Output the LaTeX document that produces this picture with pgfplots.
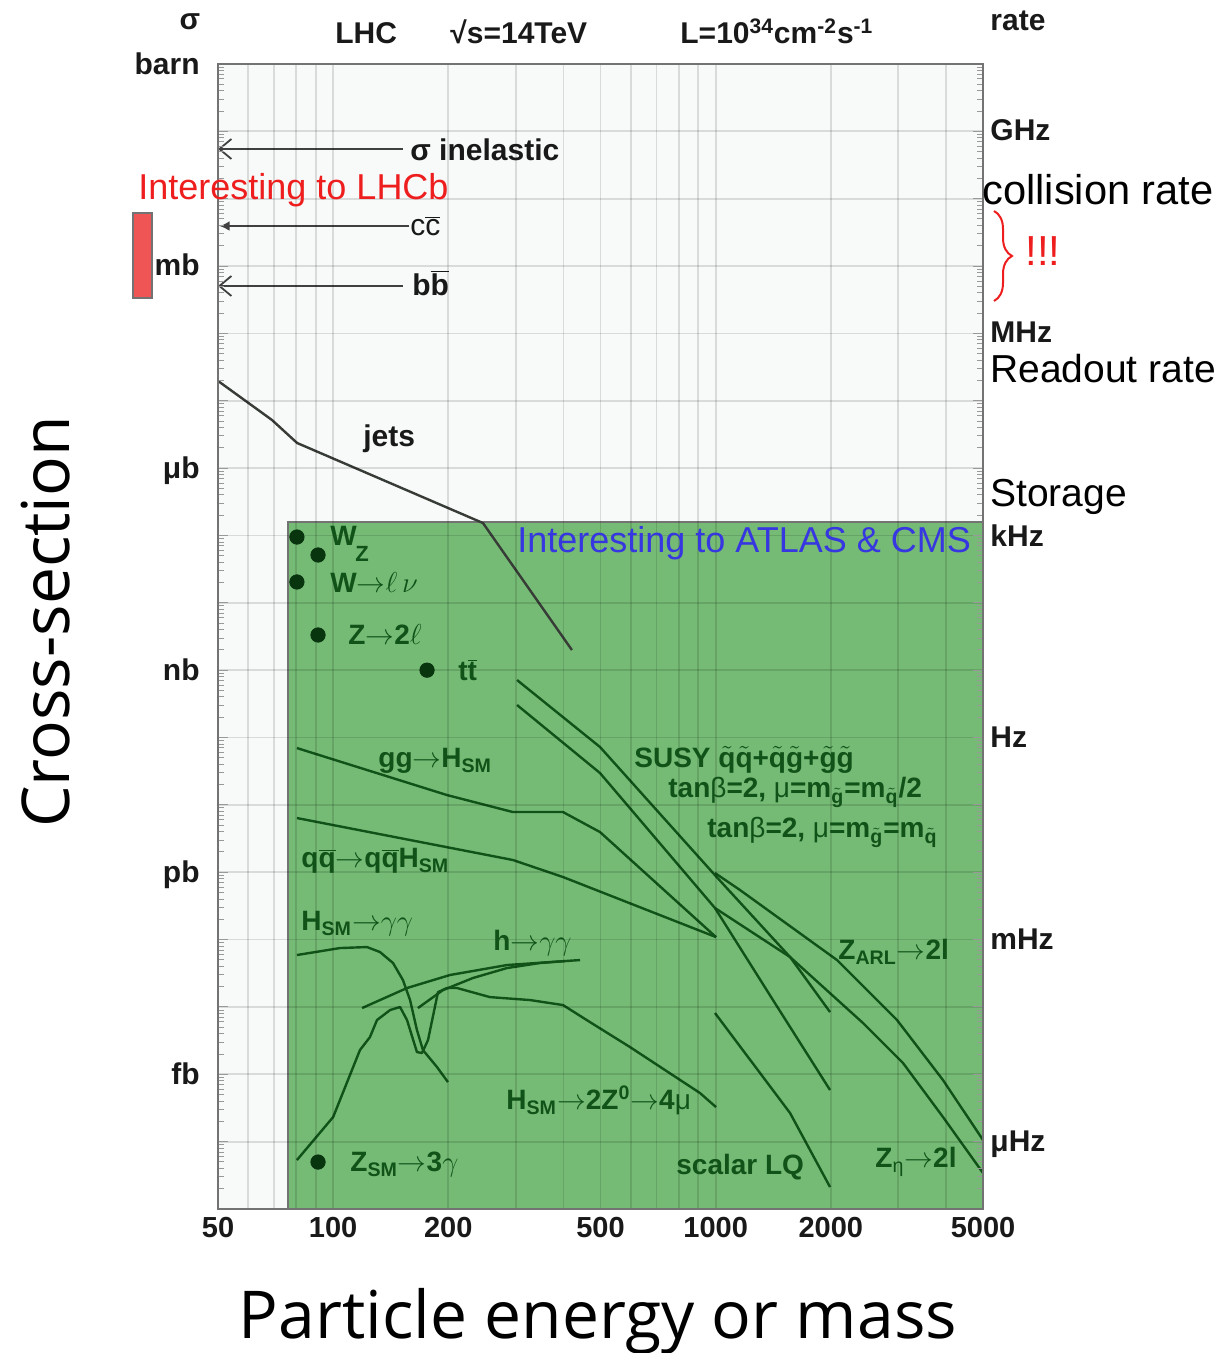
\documentclass[border=0pt]{standalone}
\usepackage{fontspec}
\setmainfont{Liberation Sans}
\newfontfamily\osans{Open Sans}
\usepackage{pgfplots}
\pgfplotsset{compat=1.18}
\usetikzlibrary{arrows.meta,decorations.pathreplacing}

\definecolor{bgc}{RGB}{248,250,250}
\definecolor{grn}{RGB}{117,187,117}
\definecolor{dg}{RGB}{16,82,24}
\definecolor{dotc}{RGB}{8,52,14}
\definecolor{jetc}{RGB}{55,60,55}
\definecolor{lred}{RGB}{238,30,30}
\definecolor{lblue}{RGB}{55,55,225}
\definecolor{barred}{RGB}{240,85,85}
\definecolor{tc}{RGB}{25,25,25}

\newcommand\tickf{\bfseries\fontsize{14.5}{16}\selectfont}
\newcommand\lab{\bfseries\fontsize{14}{16}\selectfont}
\newcommand\labb{\bfseries\fontsize{15}{17}\selectfont}
\newcommand\bigf{\fontsize{19.5}{22}\selectfont}
\newcommand\interf{\fontsize{18}{20}\selectfont}
\newcommand\titf{\osans\fontsize{33}{36}\selectfont}
\newcommand\ob[1]{$\overline{\mbox{#1}}$}
\newcommand\ti[1]{$\tilde{\mbox{#1}}$}
\newcommand\ar{$\rightarrow$}

\begin{document}
\begin{tikzpicture}
\gdef\myminor{}
\foreach \e in {-17,...,-1}{\foreach \m in {2,...,9}{\xdef\myminor{\myminor\m e\e,}}}
\begin{axis}[
  at={(0pt,0pt)}, anchor=south west, scale only axis,
  width=382.5pt, height=572.5pt,
  xmode=log, ymode=log,
  xmin=50, xmax=5000, ymin=1e-17, ymax=1,
  axis background/.style={fill=bgc},
  axis line style={draw=black!55, line width=0.9pt},
  axis on top, clip=false,
  xtick={50,60,70,80,90,100,200,300,400,500,600,700,800,900,1000,2000,3000,4000,5000},
  xticklabels={50,{},{},{},{},100,200,{},{},500,{},{},{},{},1000,2000,{},{},5000},
  xtick style={draw=none},
  xticklabel style={font=\tickf, inner sep=0pt, yshift=-4pt, text=tc},
  ytick={1e-17,1e-16,1e-15,1e-14,1e-13,1e-12,1e-11,1e-10,1e-9,1e-8,1e-7,1e-6,1e-5,1e-4,1e-3,1e-2,1e-1,1},
  yticklabel={\mbox{}},
  minor ytick/.expanded={\myminor 1},
  tick align=inside,
  major tick length=5pt, minor tick length=3pt,
  ytick style={draw=black!40, line width=0.5pt},
  xmajorgrids=true, ymajorgrids=true,
  major grid style={draw=black, opacity=0.12, line width=0.9pt},
]
% green region
\addplot[draw=none, fill=grn] coordinates {(76.2,1e-17) (76.2,1.584e-7) (5000,1.584e-7) (5000,1e-17)} -- cycle;
\addplot[draw=black!55, line width=1pt] coordinates {(76.2,1e-17) (76.2,1.584e-7) (5000,1.584e-7)};
% jets
\addplot[jetc, line width=1.2pt, line join=round] coordinates {(50,1.97e-5) (69.2,5.18e-6) (80.5,2.36e-6) (246.4,1.53e-7) (421,1.99e-9)};
% SUSY
\addplot[dg, line width=1.2pt, line join=round] coordinates {(302.5,7.14e-10) (498.5,7.23e-11) (1006,8.49e-13) (1565,5.51e-14) (1991,8.40e-15)};
\addplot[dg, line width=1.2pt, line join=round] coordinates {(302.5,3.04e-10) (498.5,2.97e-11) (996,2.94e-13) (1412,1.266e-14) (1991,5.84e-16)};
% gg -> H
\addplot[dg, line width=1.2pt, line join=round] coordinates {(80.4,6.98e-11) (198.4,1.40e-11) (295,7.83e-12) (399,7.83e-12) (498.5,3.95e-12) (1002,1.09e-13)};
% qq -> qqH
\addplot[dg, line width=1.2pt, line join=round] coordinates {(80.4,6.38e-12) (295,1.52e-12) (399,8.49e-13) (1002,1.09e-13)};
% Z_ARL
\addplot[dg, line width=1.2pt, line join=round] coordinates {(996,9.73e-13) (1158,5.44e-13) (2076,4.97e-14) (2980,6.39e-15) (3930,8.21e-16) (5000,1.056e-16)};
% Z_eta
\addplot[dg, line width=1.2pt, line join=round] coordinates {(996,2.94e-13) (1565,5.51e-14) (2428,5.77e-15) (3089,1.47e-15) (3930,2.32e-16) (5000,3.42e-17)};
% scalar LQ
\addplot[dg, line width=1.2pt, line join=round] coordinates {(996,8.12e-15) (1565,2.66e-16) (1991,2.12e-17)};
% H -> 4mu
\addplot[dg, line width=1.2pt, line join=round] coordinates {(80.4,5.33e-17) (100,2.32e-16) (117.5,2.29e-15) (124.8,3.57e-15) (130.2,6.39e-15) (140.9,9.00e-15) (149.6,9.97e-15) (156,6.39e-15) (165.6,2.14e-15) (170.7,2.07e-15) (177,3.22e-15) (188,1.66e-14) (198.4,1.91e-14) (210.8,1.91e-14) (257,1.40e-14) (327,1.266e-14) (399,1.067e-14) (469,5.97e-15) (597,2.54e-15) (910,5.27e-16) (1002,3.26e-16)};
% H -> gamma gamma
\addplot[dg, line width=1.2pt, line join=round] coordinates {(80.4,5.90e-14) (104.2,7.49e-14) (122.6,7.75e-14) (132.6,6.53e-14) (143.4,4.49e-14) (152.2,2.51e-14) (158.9,1.266e-14) (165.6,4.54e-15) (171.7,2.29e-15) (186.9,1.28e-15) (199.6,7.67e-16)};
% h -> gamma gamma
\addplot[dg, line width=1.2pt, line join=round] coordinates {(119,9.63e-15) (156,1.91e-14) (202,2.98e-14) (284.7,4.19e-14) (442,4.97e-14)};
\addplot[dg, line width=1.2pt, line join=round] coordinates {(166.6,9.63e-15) (193.7,1.78e-14) (232,2.69e-14) (284.7,3.78e-14) (347,4.49e-14) (403.8,4.80e-14)};
% points
\addplot[only marks, mark=*, mark size=3.6pt, color=dotc] coordinates {(80.4,9.48e-8) (91.3,5.13e-8) (80.4,2.04e-8) (91.3,3.33e-9) (176,1.0e-9) (91.3,4.98e-17)};
% arrows
\draw[black!75, line width=0.9pt, -{Straight Barb[length=6pt,width=10pt]}] (axis cs:152,0.0547) -- (axis cs:50,0.0547);
\draw[black!75, line width=0.9pt, -{Latex[length=5pt,width=5pt]}] (axis cs:158,3.93e-3) -- (axis cs:50.5,3.93e-3);
\draw[black!75, line width=0.9pt, -{Straight Barb[length=6pt,width=10pt]}] (axis cs:152,5.06e-4) -- (axis cs:50,5.06e-4);
\end{axis}

\begin{scope}[x=0.5pt,y=-0.5pt,shift={(-109pt,604.5pt)}]
\tikzset{every node/.style={inner sep=0pt}}
% red bar
\draw[draw=black!55, fill=barred, line width=1pt] (133,213) rectangle (152,298);
% top labels
\node[font=\labb, text=tc] at (190,22) {σ};
\node[anchor=base east, font=\labb, text=tc] at (200,75) {barn};
\node[anchor=base west, font=\labb, text=tc] at (335,44) {LHC};
\node[anchor=base west, font=\labb, text=tc] at (450,44) {√s=14TeV};
\node[anchor=base west, font=\labb, text=tc] at (680,44) {L=10\textsuperscript{34}cm\textsuperscript{-2}s\textsuperscript{-1}};
\node[anchor=base west, font=\labb, text=tc] at (990,31) {rate};
% left unit labels
\node[anchor=base east, font=\labb, text=tc] at (200,276) {mb};
\node[anchor=base east, font=\labb, text=tc] at (200,479) {μb};
\node[anchor=base east, font=\labb, text=tc] at (200,681) {nb};
\node[anchor=base east, font=\labb, text=tc] at (200,883) {pb};
\node[anchor=base east, font=\labb, text=tc] at (200,1085) {fb};
% right rate labels
\node[anchor=base west, font=\labb, text=tc] at (990,141) {GHz};
\node[anchor=base west, font=\labb, text=tc] at (990,343) {MHz};
\node[anchor=base west, font=\labb, text=tc] at (990,547) {kHz};
\node[anchor=base west, font=\labb, text=tc] at (990,748) {Hz};
\node[anchor=base west, font=\labb, text=tc] at (990,950) {mHz};
\node[anchor=base west, font=\labb, text=tc] at (990,1152) {μHz};
\node[anchor=base west, font=\fontsize{20.8}{23}\selectfont, text=black] at (982,205) {collision rate};
\node[anchor=base west, font=\bigf, text=black] at (990,383) {Readout rate};
\node[anchor=base west, font=\bigf, text=black] at (990,507) {Storage};
\draw[lred, line width=1pt, decorate, decoration={brace, amplitude=9pt}] (994,211) -- (994,301);
\node[anchor=base west, font=\fontsize{21}{23}\selectfont, text=lred] at (1025,266) {!!!};
% annotations top area
\node[anchor=base west, font=\labb, text=tc] at (410,161) {σ inelastic};
\node[anchor=base west, font=\fontsize{15}{17}\selectfont, text=tc] at (410,236) {c\ob{c}};
\node[anchor=base west, font=\labb, text=tc] at (412,296) {b\ob{b}};
\node[anchor=base west, font=\interf, text=lred] at (138,200) {Interesting to LHCb};
\node[anchor=base west, font=\labb, text=tc] at (363,447) {jets};
\node[anchor=base west, font=\interf, text=lblue] at (517,553) {Interesting to ATLAS \& CMS};
% green labels
\node[anchor=base west, font=\lab, text=dg] at (330,546) {W};
\node[anchor=base west, font=\bfseries\fontsize{11}{12}\selectfont, text=dg] at (355,562) {Z};
\node[anchor=base west, font=\lab, text=dg] at (330,593) {W\ar$\ell\,\nu$};
\node[anchor=base west, font=\lab, text=dg] at (348,645) {Z\ar 2$\ell$};
\node[anchor=base west, font=\lab, text=dg] at (458,681) {t\ob{t}};
\node[anchor=base west, font=\lab, text=dg] at (378,768) {gg\ar H\textsubscript{SM}};
\node[anchor=base west, font=\lab, text=dg] at (301,868) {q\ob{q}\ar q\ob{q}H\textsubscript{SM}};
\node[anchor=base west, font=\lab, text=dg] at (301,931) {H\textsubscript{SM}\ar$\gamma\gamma$};
\node[anchor=base west, font=\lab, text=dg] at (493,951) {h\ar$\gamma\gamma$};
\node[anchor=base west, font=\lab, text=dg] at (634,768) {SUSY \ti{q}\ti{q}+\ti{q}\ti{g}+\ti{g}\ti{g}};
\node[anchor=base west, font=\lab, text=dg] at (668,798) {tan{\mdseries β}=2, {\mdseries μ}=m\textsubscript{\ti{g}}=m\textsubscript{\ti{q}}/2};
\node[anchor=base west, font=\lab, text=dg] at (707,838) {tan{\mdseries β}=2, {\mdseries μ}=m\textsubscript{\ti{g}}=m\textsubscript{\ti{q}}};
\node[anchor=base west, font=\lab, text=dg] at (838,960) {Z\textsubscript{ARL}\ar 2l};
\node[anchor=base west, font=\lab, text=dg] at (506,1110) {H\textsubscript{SM}\ar 2Z\textsuperscript{0}\ar 4{\mdseries μ}};
\node[anchor=base west, font=\lab, text=dg] at (676,1175) {scalar LQ};
\node[anchor=base west, font=\lab, text=dg] at (875,1168) {Z\textsubscript{{\mdseries η}}\ar 2l};
\node[anchor=base west, font=\lab, text=dg] at (350,1172) {Z\textsubscript{SM}\ar 3$\gamma$};
% axis titles
\node[anchor=base, font=\titf, text=black] at (598,1338) {Particle energy or mass};
\node[anchor=base, rotate=90, font=\titf, text=black] at (70,622) {Cross-section};
\end{scope}
\pgfresetboundingbox
\path[use as bounding box] (-109pt,-72pt) rectangle (500pt,604.5pt);
\end{tikzpicture}
\end{document}
